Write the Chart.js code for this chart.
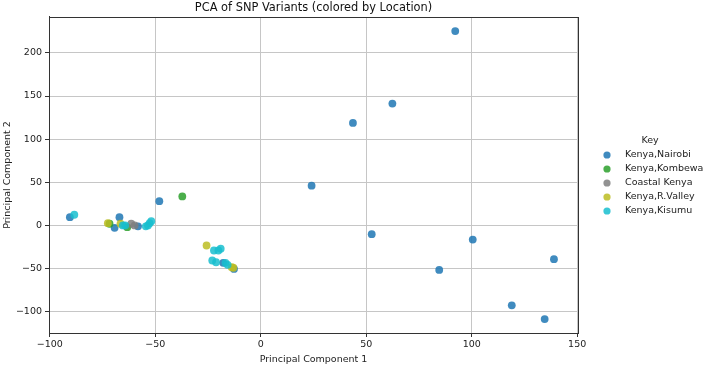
<!DOCTYPE html>
<html lang="en">

<head>
  <meta charset="UTF-8">
  <title>PCA of SNP Variants</title>
  <script src="https://cdn.jsdelivr.net/npm/chart.js"></script>
  <style>
    html, body { margin: 0; padding: 0; background: #fff; }
    #box { width: 704px; height: 365px; position: relative; }
  </style>
</head>

<body>
  <div id="box">
    <canvas id="chartPca"></canvas>
  </div>
</body>

</html>
<script>
  // locations, in legend order
  const locations = ['Kenya,Nairobi', 'Kenya,Kombewa', 'Coastal Kenya', 'Kenya,R.Valley', 'Kenya,Kisumu'];
  const colors = ['rgba(31,119,180,0.85)', 'rgba(44,160,44,0.85)', 'rgba(127,127,127,0.85)', 'rgba(188,189,34,0.85)', 'rgba(23,190,207,0.85)'];

  // PC1 / PC2 per location
  const nairobiX = [92.2, 62.4, 43.7, 24.1, 52.6, 100.5, 139, 84.6, 119, 134.6, -48.1, -90.5, -67, -69.3, -58.2, -17.8, -12.7];
  const nairobiY = [225.3, 141.3, 118.8, 46.1, -10.1, -16.3, -39.1, -51.5, -92.5, -108.5, 28.2, 9.6, 9.6, -2.7, -1, -43.3, -50.3];
  const kombewaX = [-37.2, -71.7, -63.3];
  const kombewaY = [33.7, 2, -2];
  const coastalX = [-61.4, -59.8];
  const coastalY = [2, 0];
  const valleyX = [-72.5, -66.5, -25.7, -13.8, -13];
  const valleyY = [2.7, 2, -23.2, -48.4, -49];
  const kisumuX = [-88.4, -65.4, -64.3, -53.5, -52.7, -51.9, -54.5, -22.2, -20.1, -19, -23, -21.2, -16.7, -15.7];
  const kisumuY = [12.4, 0, 0, 0, 2.7, 5, -1, -29, -29, -27, -40.6, -42.6, -43.3, -45.6];

  const xTicks = [-100, -50, 0, 50, 100, 150];
  const yTicks = [-100, -50, 0, 50, 100, 150, 200];

  const allX = [nairobiX, kombewaX, coastalX, valleyX, kisumuX];
  const allY = [nairobiY, kombewaY, coastalY, valleyY, kisumuY];

  function toPoints(xs, ys) {
    return xs.map((x, i) => ({ x: x, y: ys[i] }));
  }

  function fmt(v) {
    return v < 0 ? '\u2212' + Math.abs(v) : '' + v;
  }

  const FONT = 'DejaVu Sans';
  Chart.defaults.font.family = FONT;
  Chart.defaults.color = '#222';

  // frame on all four sides like matplotlib spines
  const frame = {
    id: 'frame',
    afterDatasetsDraw(chart) {
      const a = chart.chartArea;
      const c = chart.ctx;
      c.save();
      c.strokeStyle = '#333';
      c.lineWidth = 1;
      c.strokeRect(Math.round(a.left) + 0.5, Math.round(a.top) + 0.5, Math.round(a.right - a.left), Math.round(a.bottom - a.top));
      c.restore();
    }
  };

  // legend to the right of the axes, matplotlib style (no frame, title "Key")
  const keyLegend = {
    id: 'keyLegend',
    afterDraw(chart) {
      const a = chart.chartArea;
      const c = chart.ctx;
      const midY = (a.top + a.bottom) / 2;
      const markX = a.right + 29;
      const textX = a.right + 47;
      c.save();
      c.font = '9.5px "' + FONT + '"';
      c.fillStyle = '#222';
      c.textBaseline = 'middle';
      c.textAlign = 'center';
      c.fillText('Key', a.right + 72, midY - 34);
      c.textAlign = 'left';
      chart.data.datasets.forEach((ds, i) => {
        const y = midY - 20 + i * 14;
        c.beginPath();
        c.arc(markX, y, 3.6, 0, Math.PI * 2);
        c.fillStyle = ds.backgroundColor;
        c.fill();
        c.fillStyle = '#222';
        c.fillText(ds.label, textX, y);
      });
      c.restore();
    }
  };

  const ctx = document.getElementById('chartPca');
  new Chart(ctx, {
    type: 'scatter',
    data: {
      datasets: locations.map((name, i) => ({
        label: name,
        data: toPoints(allX[i], allY[i]),
        backgroundColor: colors[i],
        borderWidth: 0,
        pointRadius: 3.9,
        pointHoverRadius: 3.9,
        order: 5 - i
      }))
    },
    options: {
      responsive: true,
      maintainAspectRatio: false,
      animation: false,
      layout: { padding: { left: 0, right: 126, top: 0, bottom: 0 } },
      plugins: {
        title: {
          display: true,
          fullSize: false,
          text: 'PCA of SNP Variants (colored by Location)',
          color: '#111',
          font: { family: FONT, size: 11.4, weight: 'normal', lineHeight: 1.2 },
          padding: { top: 1.5, bottom: 1.8 }
        },
        legend: { display: false },
        tooltip: { enabled: false }
      },
      scales: {
        x: {
          type: 'linear',
          min: -100.4,
          max: 150.4,
          afterBuildTicks: (s) => { s.ticks = xTicks.map(v => ({ value: v })); },
          afterFit: (s) => { s.height = 32; },
          ticks: {
            includeBounds: false,
            padding: 2,
            font: { family: FONT, size: 9.5 },
            color: '#222',
            maxRotation: 0,
            callback: (v) => fmt(v)
          },
          grid: { color: '#c6c6c6', tickColor: '#333', tickLength: 4, lineWidth: 1 },
          border: { display: true, color: '#333' },
          title: {
            display: true,
            text: 'Principal Component 1',
            color: '#222',
            font: { family: FONT, size: 9.5 },
            padding: { top: 1, bottom: 0 }
          }
        },
        y: {
          type: 'linear',
          min: -124.6,
          max: 241.6,
          afterBuildTicks: (s) => { s.ticks = yTicks.map(v => ({ value: v })); },
          afterFit: (s) => { s.width = 49; },
          ticks: {
            includeBounds: false,
            padding: 3,
            font: { family: FONT, size: 9.5 },
            color: '#222',
            callback: (v) => fmt(v)
          },
          grid: { color: '#c6c6c6', tickColor: '#333', tickLength: 4, lineWidth: 1 },
          border: { display: true, color: '#333' },
          title: {
            display: true,
            text: 'Principal Component 2',
            color: '#222',
            font: { family: FONT, size: 9.5 },
            padding: { top: 2, bottom: 1 }
          }
        }
      }
    },
    plugins: [frame, keyLegend]
  });
</script>
